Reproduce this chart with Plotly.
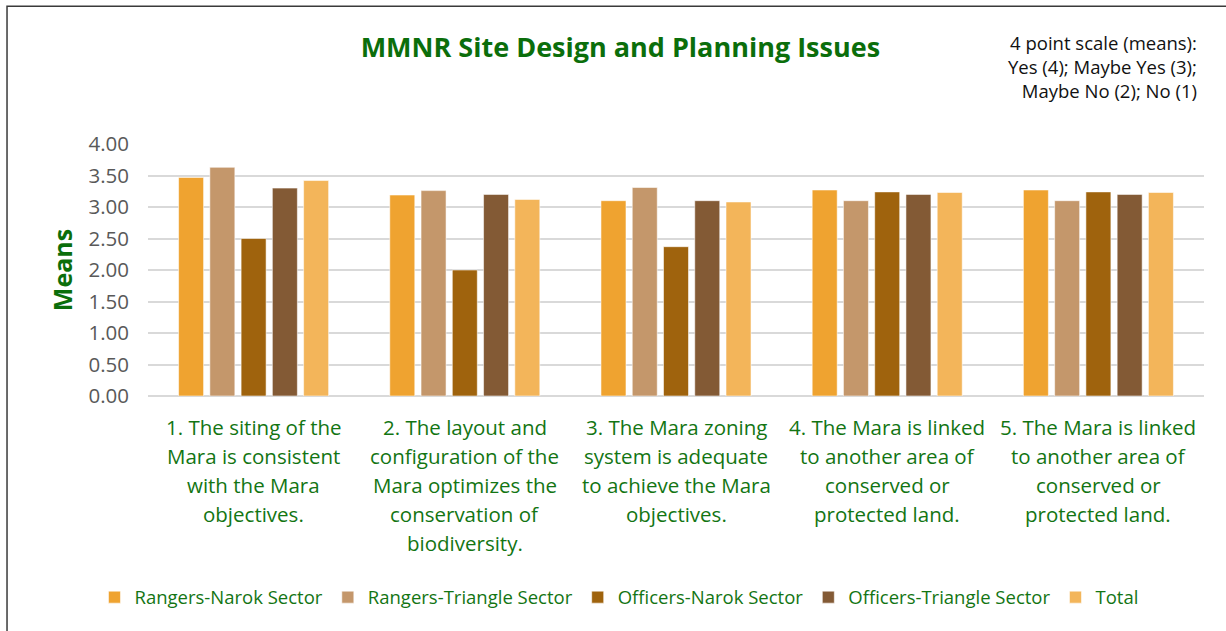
import plotly.graph_objects as go

categories = [
    "1. The siting of the<br>Mara is consistent<br>with the Mara<br>objectives.",
    "2. The layout and<br>configuration of the<br>Mara optimizes the<br>conservation of<br>biodiversity.",
    "3. The Mara zoning<br>system is adequate<br>to achieve the Mara<br>objectives.",
    "4. The Mara is linked<br>to another area of<br>conserved or<br>protected land.",
    "5. The Mara is linked<br>to another area of<br>conserved or<br>protected land.",
]
cat_ids = ["Q1", "Q2", "Q3", "Q4", "Q5"]

series_names = ["Rangers-Narok Sector", "Rangers-Triangle Sector", "Officers-Narok Sector",
                "Officers-Triangle Sector", "Total"]
rangers_narok = [3.47, 3.19, 3.10, 3.27, 3.27]
rangers_triangle = [3.63, 3.26, 3.31, 3.10, 3.10]
officers_narok = [2.50, 2.00, 2.37, 3.24, 3.24]
officers_triangle = [3.30, 3.20, 3.10, 3.20, 3.20]
total = [3.42, 3.12, 3.08, 3.23, 3.23]
series_values = [rangers_narok, rangers_triangle, officers_narok, officers_triangle, total]
colors = ["#EFA330", "#C4976B", "#9F630D", "#835A35", "#F3B55A"]

y_ticks = [0, 0.5, 1, 1.5, 2, 2.5, 3, 3.5, 4]

GREEN = "#0B6E0B"
LABEL_GREEN = "#137513"
FONT = "Open Sans"

fig = go.Figure()
for name, vals, col in zip(series_names, series_values, colors):
    fig.add_trace(go.Bar(
        x=cat_ids, y=vals, name=name,
        marker=dict(color=col, line=dict(color="rgba(255,255,255,0.55)", width=1)),
    ))

# category labels as multi-line annotations
for cid, label in zip(cat_ids, categories):
    for i, line in enumerate(label.split("<br>")):
        fig.add_annotation(
            x=cid, y=0, xref="x", yref="y", text=line, showarrow=False,
            yanchor="middle", xanchor="center", yshift=-(31 + 29 * i),
            font=dict(family=FONT, size=20.5, color=LABEL_GREEN),
        )

fig.add_annotation(
    xref="paper", yref="paper", x=0.995, y=1.46, xanchor="right", yanchor="top",
    text="4 point scale (means):<br>Yes (4); Maybe Yes (3);<br>Maybe No (2); No (1)",
    align="right", showarrow=False,
    font=dict(family=FONT, size=18.5, color="#111111"),
)

# outer frame
fig.add_shape(type="rect", xref="paper", yref="paper",
              x0=-0.1335, x1=1.03, y0=-1.0, y1=1.547,
              line=dict(color="#3a3a3a", width=1.5), fillcolor="rgba(0,0,0,0)", layer="below")

fig.update_layout(
    width=1226, height=631,
    margin=dict(l=148, r=22, t=144, b=235, autoexpand=False),
    paper_bgcolor="white", plot_bgcolor="white",
    title=dict(text="<b>MMNR Site Design and Planning Issues</b>", x=0.506, xanchor="center",
               y=0.925, yanchor="middle",
               font=dict(family=FONT, size=27, color=GREEN)),
    barmode="group", bargap=0.26, bargroupgap=0.2,
    showlegend=True,
    legend=dict(orientation="h", x=0.446, xanchor="center", y=-0.8, yanchor="middle",
                font=dict(family=FONT, size=18.5, color=LABEL_GREEN), itemwidth=30,
                traceorder="normal"),
    xaxis=dict(showticklabels=False, showgrid=False, showline=False, ticks=""),
    yaxis=dict(range=[0, 4], tickvals=y_ticks, tickformat=".2f",
               showgrid=True, gridcolor="#D9D9D9", gridwidth=1.5,
               zeroline=True, zerolinecolor="#D9D9D9", zerolinewidth=1.5,
               tickfont=dict(family=FONT, size=20.5, color="#595959"), ticks="", ticklabelstandoff=18,
               title=dict(text="<b>Means</b>", font=dict(family=FONT, size=25, color=GREEN), standoff=8)),
)

fig.write_html("out.html", post_script="document.body.style.margin='0px';",
               config={"displayModeBar": False})
